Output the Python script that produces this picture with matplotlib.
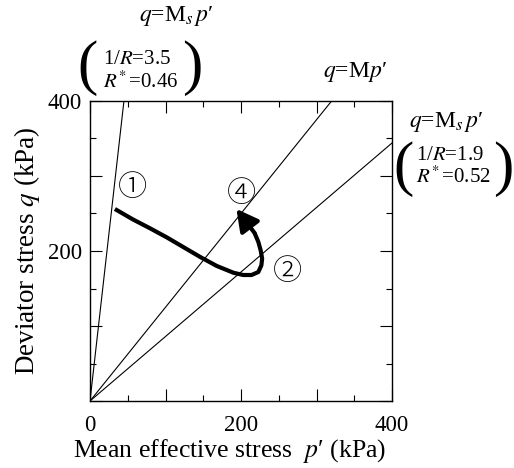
import matplotlib
matplotlib.use("Agg")
import matplotlib.pyplot as plt
import numpy as np

plt.rcParams['font.family'] = ['Liberation Serif', 'DejaVu Serif', 'DejaVu Sans']
plt.rcParams['mathtext.fontset'] = 'stix'

# Data
slope_Ms1 = 8.9    # steep line q = Ms p'
slope_M = 1.25     # q = M p'
slope_Ms2 = 0.86   # lower line q = Ms p'
path_p = [33, 57, 80, 102, 124, 146, 168, 190, 203, 214, 223, 227, 228, 226, 223, 218]
path_q = [256, 242, 230, 218, 205, 192, 180, 171, 168, 168, 172, 181, 190, 201, 212, 224]
arrow_tip = (194, 256)
xticks = [0, 100, 200, 300, 400]
xticklabels = ['0', '', '200', '', '400']
yticks = [0, 100, 200, 300, 400]
yticklabels = ['', '', '200', '', '400']
circ_labels = ['①', '④', '②']
circ_p = [56, 201, 261]
circ_q = [284, 277, 172]

fig = plt.figure(figsize=(5.14, 4.68), dpi=100)
ax = fig.add_axes([90/514, 67/468, 302/514, 300/468])
ax.set_xlim(0, 400)
ax.set_ylim(0, 400)

pp = np.array([0, 400])
for s in (slope_Ms1, slope_M, slope_Ms2):
    ax.plot(pp, s * pp, color='k', lw=0.8, clip_on=True)

ax.plot(path_p, path_q, color='k', lw=3, solid_capstyle='butt', solid_joinstyle='round')
ax.annotate('', xy=arrow_tip, xytext=(path_p[-1], path_q[-1]),
            arrowprops=dict(arrowstyle='-|>,head_length=1.3,head_width=0.7',
                            lw=3, color='k', shrinkA=0, shrinkB=0))

for t, x, y in zip(circ_labels, circ_p, circ_q):
    ax.text(x, y, t, fontsize=21, ha='center', va='center',
            family=['Noto Sans CJK JP', 'DejaVu Sans'], fontweight='light')

ax.set_xticks(xticks)
ax.set_xticklabels(xticklabels)
ax.set_yticks(yticks)
ax.set_yticklabels(yticklabels)
ax.set_xticks(np.arange(50, 400, 100), minor=True)
ax.set_yticks(np.arange(50, 400, 100), minor=True)
ax.tick_params(which='both', direction='in', top=True, right=True, labelsize=16.5)
ax.tick_params(axis='x', which='both', pad=10)
ax.tick_params(axis='y', which='both', pad=6)
ax.tick_params(which='major', length=8.5, width=0.8)
ax.tick_params(which='minor', length=4.3, width=0.8)
for sp in ax.spines.values():
    sp.set_linewidth(1.0)

ax.set_xlabel("Mean effective stress  $p$\u2032 (kPa)", fontsize=18.5)
ax.xaxis.set_label_coords((230 - 90) / 302, -(451 - 401) / 300)
ax.xaxis.label.set_va('center')
ax.set_ylabel("Deviator stress $q$ (kPa)", fontsize=19.5, labelpad=4)

# annotations in figure pixel coords
def ftext(x, y, s, **kw):
    fig.text(x/514, 1 - y/468, s, **kw)

ftext(176, 16, "$q$=M$_s\\,p$\u2032", fontsize=17, ha='center', va='center')
ftext(88, 68, "(", fontsize=44, ha='center', va='center')
ftext(103, 60, "1/$R$=3.5", fontsize=15, ha='left', va='center')
ftext(103, 82, "$R^{\\!*}$=0.46", fontsize=15, ha='left', va='center')
ftext(192, 68, ")", fontsize=44, ha='center', va='center')

ftext(355, 72, "$q$=M$p$\u2032", fontsize=17, ha='center', va='center')

ftext(446, 122, "$q$=M$_s\\,p$\u2032", fontsize=17, ha='center', va='center')
ftext(403, 169, "(", fontsize=44, ha='center', va='center')
ftext(416, 156, "1/$R$=1.9", fontsize=15, ha='left', va='center')
ftext(416, 177, "$R^{\\!*}$=0.52", fontsize=15, ha='left', va='center')
ftext(503, 169, ")", fontsize=44, ha='center', va='center')

fig.savefig("out.png", dpi=100)
